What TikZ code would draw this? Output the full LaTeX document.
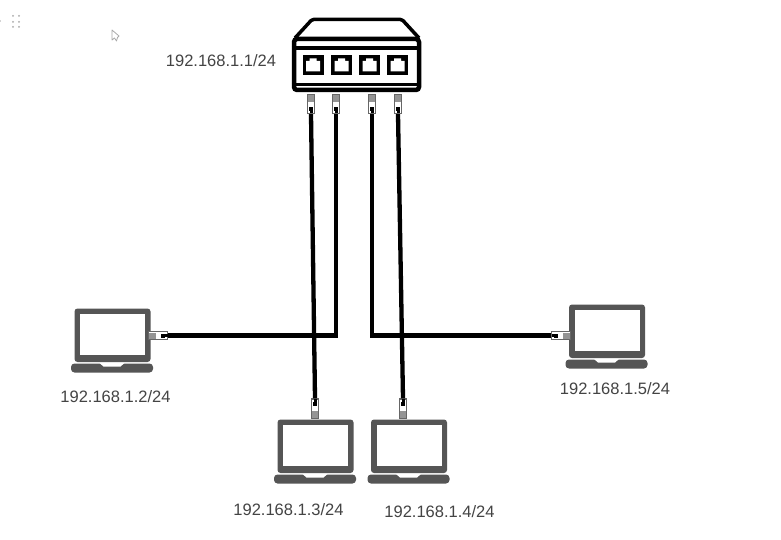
\documentclass[tikz,border=0pt]{standalone}
\usepackage{fontspec}
\setmainfont{Liberation Sans}
\usetikzlibrary{positioning, calc}

\begin{document}
\begin{tikzpicture}[
    x=1pt, y=-1pt,
    ip/.style={text=cText, font=\fontsize{16.5pt}{18pt}\selectfont, inner sep=0pt},
    cable/.style={draw=black, line width=4.3pt},
    swbox/.style={draw=black, line width=4.5pt, rounded corners=3pt, fill=white, minimum width=125pt, minimum height=51pt, inner sep=0pt},
    swline/.style={draw=black, line width=3.5pt},
    screenbox/.style={fill=white, minimum width=65pt, minimum height=41pt, inner sep=0pt},
    plugbox/.style={draw=cPlug, line width=1.2pt, fill=white, minimum width=7.5pt, minimum height=19pt, inner sep=0pt, transform shape},
    portbox/.style={fill=black, minimum width=21pt, minimum height=20pt, inner sep=0pt},
    laptop/.pic={
        \fill[cLap, rounded corners=3pt] (-38,27) -- (-38,-26.5) -- (38,-26.5) -- (38,27) -- cycle;
        \node[screenbox] (-screen) at (0,-0.5) {};
        \fill[cLap, rounded corners=3.5pt] (-41.5,28.5) -- (-41.5,37.5) -- (40.5,37.5) -- (40.5,28.5) -- cycle;
        \fill[white] (-13,28) -- (-9,31.5) -- (8,31.5) -- (12,28) -- cycle;
    },
    plug/.pic={
        \node[plugbox] (-box) at (0,0) {};
        \fill[cPlug!70] (-3,-9) rectangle (3,-2);
        \fill[black] (-2,3) rectangle (2,7);
        \fill[black] (-1.5,7) rectangle (1.5,9.5);
    },
    port/.pic={
        \node[portbox] (-box) at (0,0) {};
        \fill[white] (-7,-4) -- (-3.5,-4) -- (-3.5,-6.5) -- (3.5,-6.5) -- (3.5,-4) -- (7,-4) -- (7,6.5) -- (-7,6.5) -- cycle;
    }]

\definecolor{cText}{HTML}{444444}
\definecolor{cLap}{HTML}{555555}
\definecolor{cPlug}{HTML}{666666}
\definecolor{cDots}{HTML}{A8A8A8}

\useasboundingbox (0,0) rectangle (781,540);
\fill[white] (0,0) rectangle (781,540);

% Marcas de la ventana (arriba a la izquierda)
\foreach \dx in {13,19} {
    \foreach \dy in {16,22,27} {
        \fill[cDots] (\dx,\dy) circle (1pt);
    }
}
\fill[cDots] (0,21) circle (0.8pt);
\draw[cDots, fill=white, line width=0.8pt, line join=round] (112,30) -- (112,40) -- (114.5,38) -- (116.5,41) -- (117.5,37.5) -- (119,36) -- cycle;

% Switch
\draw[black, line width=3.5pt, line join=round, fill=white, rounded corners=1.5pt] (295,38) -- (312,19.5) -- (402,19.5) -- (419,38);
\node[swbox] (sw) at (356.5,64.5) {};
\draw[swline] ($(sw.west)+(0,-16.5)$) -- ($(sw.east)+(0,-16.5)$);
\draw[swline] ($(sw.west)+(0,20)$) -- ($(sw.east)+(0,20)$);
\pic (portA) at (313,65) {port};
\pic (portB) at (341.5,65) {port};
\pic (portC) at (369.5,65) {port};
\pic (portD) at (397.5,65) {port};

% Portatiles
\pic (lapL) at (112.5,335) {laptop};
\pic (lapA) at (315.5,446) {laptop};
\pic (lapB) at (409,446) {laptop};
\pic (lapR) at (607,331) {laptop};

% Conectores
\pic (plugA) at (311,104) {plug};
\pic (plugB) at (336,104) {plug};
\pic (plugC) at (372,104) {plug};
\pic (plugD) at (398,104) {plug};
\pic[rotate=90] (plugL) at (158,335.5) {plug};
\pic[rotate=180] (plugE) at (315,408.5) {plug};
\pic[rotate=180] (plugF) at (403,408.5) {plug};
\pic[rotate=-90] (plugR) at (561,335.5) {plug};

% Cables
\draw[cable] (plugA-box.south) -- (plugE-box.south);
\draw[cable] (plugD-box.south) -- (plugF-box.south);
\draw[cable] (plugB-box.south) |- (plugL-box.south);
\draw[cable] (plugC-box.south) |- (plugR-box.south);

% Direcciones
\node[ip] (ipSw) at (221,60.5) {192.168.1.1/24};
\node[ip] (ipL) at (115.5,396.5) {192.168.1.2/24};
\node[ip] (ipA) at (288.5,509.5) {192.168.1.3/24};
\node[ip] (ipB) at (439.5,511.5) {192.168.1.4/24};
\node[ip] (ipR) at (615,388.5) {192.168.1.5/24};

\end{tikzpicture}
\end{document}
